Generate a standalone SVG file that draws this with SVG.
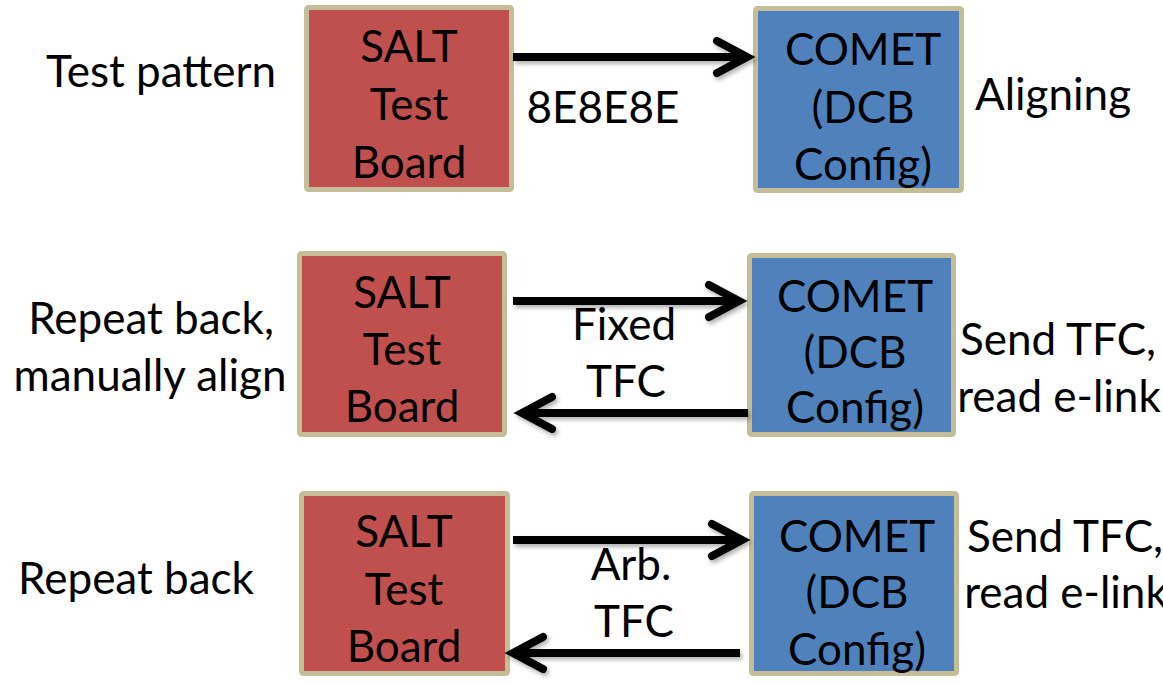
<svg xmlns="http://www.w3.org/2000/svg" width="1163" height="685" viewBox="0 0 1163 685">
<style>
text{font-family:Lato,"Open Sans","Liberation Sans",sans-serif;font-size:44px;fill:#000;text-anchor:middle}
.salt{fill:#C0504D;stroke:#C4BD97;stroke-width:5}
.comet{fill:#4F81BD;stroke:#C4BD97;stroke-width:5}
.conn{stroke:#000;stroke-width:8;fill:none;marker-end:url(#arr)}
</style>
<defs>
<marker id="arr" markerUnits="userSpaceOnUse" viewBox="-40 -25 50 50" refX="0" refY="0" markerWidth="50" markerHeight="50" orient="auto" overflow="visible">
<path d="M-30,-16 L0,0 L-30,16" fill="none" stroke="#000" stroke-width="8" stroke-linecap="round" stroke-linejoin="miter"/>
</marker>
<filter id="sh" filterUnits="userSpaceOnUse" x="0" y="0" width="1163" height="685">
<feDropShadow dx="2" dy="3" stdDeviation="2" flood-color="#000" flood-opacity="0.3"/>
</filter>
</defs>
<rect width="1163" height="685" fill="#fff"/>

<g id="label-row1"><text x="161" y="87">Test pattern</text></g>
<g id="salt1"><rect class="salt" x="306.5" y="7.5" width="205" height="182" rx="2"/><text x="409" y="62">SALT</text><text x="409" y="120">Test</text><text x="409" y="178">Board</text></g>
<g id="comet1"><rect class="comet" x="755.5" y="8.5" width="206" height="182" rx="2"/><text x="863" y="65">COMET</text><text x="863" y="123">(DCB</text><text x="863" y="180">Config)</text></g>
<g id="status1"><text x="1053" y="110">Aligning</text></g>
<g id="data1"><text x="603" y="123">8E8E8E</text></g>

<g id="label-row2"><text x="151" y="334">Repeat back,</text><text x="150" y="391">manually align</text></g>
<g id="salt2"><rect class="salt" x="299.5" y="253.5" width="205" height="181" rx="2"/><text x="402" y="308">SALT</text><text x="402" y="365">Test</text><text x="402" y="422">Board</text></g>
<g id="comet2"><rect class="comet" x="749.5" y="255.5" width="204" height="179" rx="2"/><text x="855" y="312">COMET</text><text x="855" y="368">(DCB</text><text x="855" y="423">Config)</text></g>
<g id="status2"><text x="1058" y="355">Send TFC,</text><text x="1059" y="412">read e-link</text></g>
<g id="data2"><text x="624" y="340">Fixed</text><text x="626" y="397">TFC</text></g>

<g id="label-row3"><text x="136" y="594">Repeat back</text></g>
<g id="salt3"><rect class="salt" x="301.5" y="493.5" width="206" height="180" rx="2"/><text x="404" y="547">SALT</text><text x="404" y="605">Test</text><text x="404" y="662">Board</text></g>
<g id="comet3"><rect class="comet" x="751.5" y="493.5" width="205" height="180" rx="2"/><text x="857" y="552">COMET</text><text x="857" y="608">(DCB</text><text x="857" y="665">Config)</text></g>
<g id="status3"><text x="1065" y="552">Send TFC,</text><text x="1066" y="608">read e-link</text></g>
<g id="data3"><text x="631" y="580">Arb.</text><text x="634" y="637">TFC</text></g>

<g id="connectors" filter="url(#sh)">
<line class="conn" x1="513" y1="57" x2="747" y2="57"/>
<line class="conn" x1="513" y1="301" x2="739" y2="301"/>
<line class="conn" x1="748" y1="413" x2="522" y2="413"/>
<line class="conn" x1="513" y1="540" x2="742" y2="540"/>
<line class="conn" x1="740" y1="653" x2="513" y2="653"/>
</g>
</svg>
